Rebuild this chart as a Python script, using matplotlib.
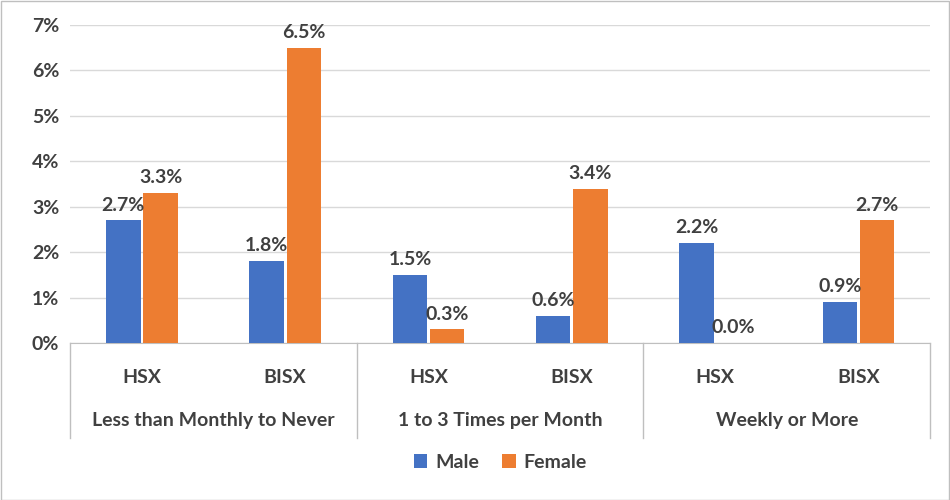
import matplotlib
matplotlib.use("Agg")
import matplotlib.pyplot as plt
import numpy as np

groups = ["Less than Monthly to Never", "1 to 3 Times per Month", "Weekly or More"]
subs = ["HSX", "BISX"]
male = [2.7, 1.8, 1.5, 0.6, 2.2, 0.9]
female = [3.3, 6.5, 0.3, 3.4, 0.0, 2.7]
yticks = [0, 1, 2, 3, 4, 5, 6, 7]

plt.rcParams['font.family'] = ['Lato', 'DejaVu Sans']
fs = 14
fig = plt.figure(figsize=(9.5, 5), dpi=100)
fig.patches.append(plt.Rectangle((0.001, 0.001), 0.998, 0.997, transform=fig.transFigure,
                                 fill=False, edgecolor='#BFBFBF', lw=1))
ax = fig.add_axes([0.074, 0.314, 0.905, 0.636])
x = np.arange(len(male))
w = 0.24
ax.bar(x - w/2 - 0.01, male, w, color='#4472C4', label='Male', zorder=3)
ax.bar(x + w/2 + 0.01, female, w, color='#ED7D31', label='Female', zorder=3)
for xi, m, f in zip(x, male, female):
    ax.text(xi - w/2 - 0.01, m + 0.15, f"{m:.1f}%", ha='center', va='bottom',
            fontsize=fs, fontweight='bold', color='#404040')
    ax.text(xi + w/2 + 0.01, f + 0.15, f"{f:.1f}%", ha='center', va='bottom',
            fontsize=fs, fontweight='bold', color='#404040')
ax.set_xlim(-0.5, len(male) - 0.5)
ax.set_ylim(0, 7)
ax.set_yticks(yticks)
ax.set_yticklabels([f"{t}%" for t in yticks], fontsize=fs, fontweight='bold', color='#404040')
ax.yaxis.grid(True, color='#D9D9D9', lw=1, zorder=0)
for s in ['top', 'right', 'left']:
    ax.spines[s].set_visible(False)
ax.spines['bottom'].set_color('#BFBFBF')
ax.tick_params(axis='y', length=0, pad=8)
ax.set_xticks([])
trans = ax.get_xaxis_transform()
for xi in range(len(male)):
    ax.text(xi, -0.11, subs[xi % 2], transform=trans, ha='center', va='center',
            fontsize=fs, fontweight='bold', color='#404040')
for gi, g in enumerate(groups):
    ax.text(gi * 2 + 0.5, -0.245, g, transform=trans, ha='center', va='center',
            fontsize=fs, fontweight='bold', color='#404040')
for b in [-0.5, 1.5, 3.5, 5.5]:
    ax.plot([b, b], [0, -0.3], transform=trans, color='#BFBFBF', lw=1, clip_on=False)
ax.legend(loc='center', bbox_to_anchor=(0.5, -0.375), ncol=2, frameon=False,
          prop={'size': fs, 'weight': 'bold'}, handlelength=0.7, handleheight=0.7,
          columnspacing=1.2, handletextpad=0.4, labelcolor='#404040')
fig.savefig("out.png", dpi=100)
